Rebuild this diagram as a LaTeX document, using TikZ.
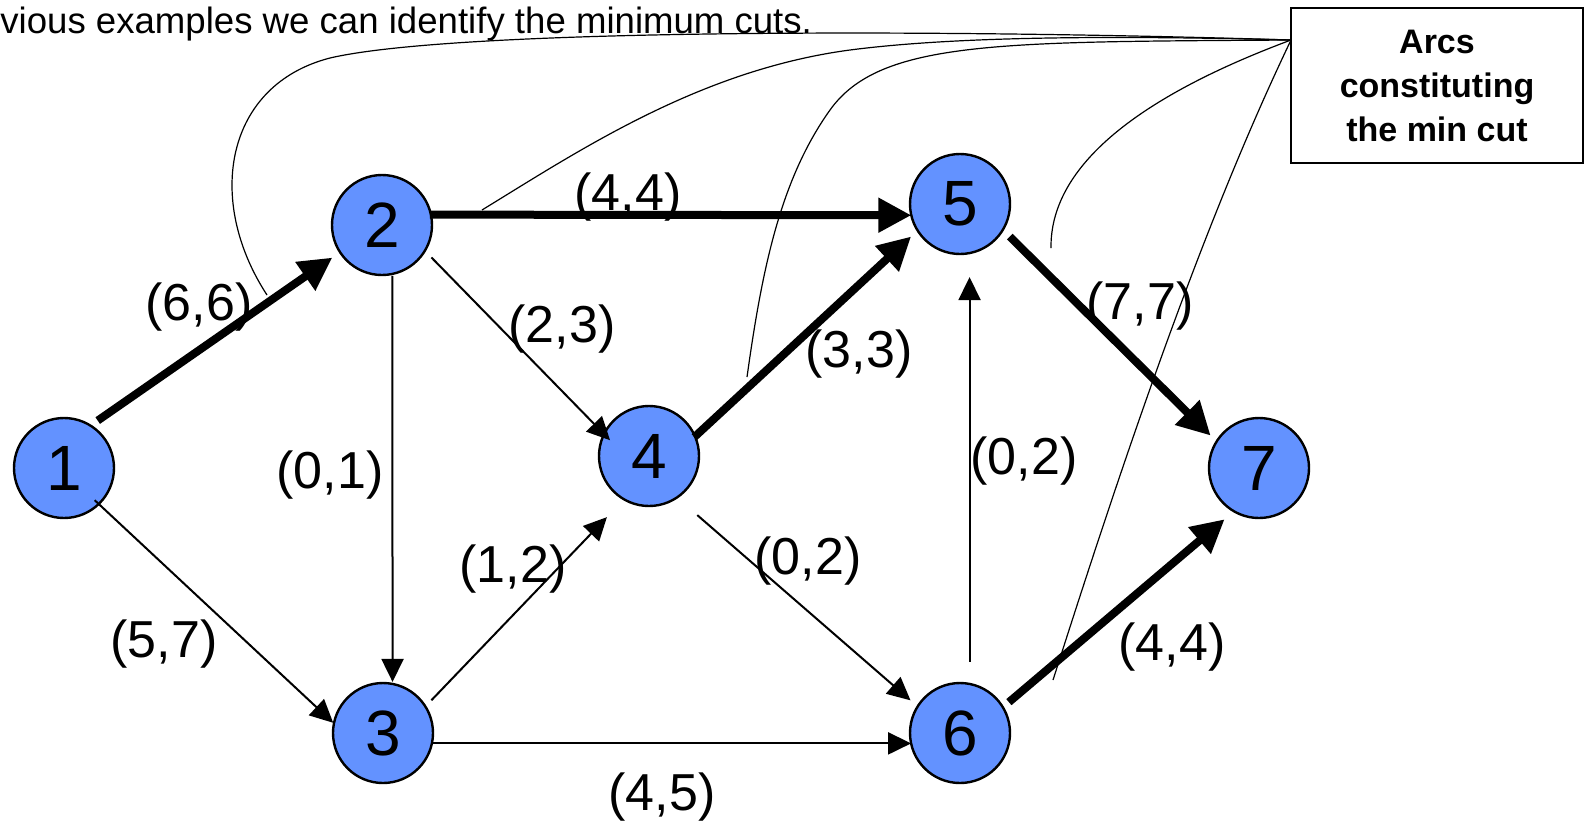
\documentclass[tikz,border=0pt]{standalone}
\usepackage{fontspec}
\setmainfont{Liberation Sans}
\usetikzlibrary{arrows.meta}
\definecolor{nodeblue}{RGB}{99,146,255}
\begin{document}
\begin{tikzpicture}[x=0.5pt,y=-0.5pt,
  vert/.style={circle,draw=black,line width=1.2pt,fill=nodeblue,minimum size=50pt,inner sep=0pt,outer sep=0pt,font=\fontsize{32}{38}\selectfont},
  lbl/.style={font=\fontsize{26}{31}\selectfont,inner sep=0pt},
  flowthin/.style={line width=1pt,-{Triangle[length=11.5pt,width=11pt]}},
  flowbold/.style={line width=4pt,-{Triangle[length=16.5pt,width=16.5pt]}},
  cutline/.style={line width=0.6pt},
  callout/.style={draw=black,line width=1pt,minimum width=146pt,minimum height=77.5pt,align=center,inner sep=0pt,font=\bfseries\fontsize{17}{22}\selectfont}]
\useasboundingbox (0,0) rectangle (1584,820);

% caption
\node[anchor=base west,inner sep=0pt,font=\fontsize{18.3}{22}\selectfont] (caption) at (0,33) {vious examples we can identify the minimum cuts.};

% callout box
\node[callout] (box) at (1437,85.5) {Arcs\\constituting\\the min cut};
\coordinate (hub) at (1291,40);

% vertices
\node[vert] (n1) at (64,468) {1};
\node[vert] (n2) at (382,225) {2};
\node[vert] (n3) at (383,733) {3};
\node[vert] (n4) at (649,456) {4};
\node[vert] (n5) at (960,204) {5};
\node[vert] (n6) at (960,733) {6};
\node[vert] (n7) at (1259,468) {7};

% arcs
\draw[flowbold,shorten <=4.4pt,shorten >=4.7pt] (n1.58) -- (n2.213);
\draw[flowthin,shorten <=-2.75pt,shorten >=0.5pt] (n1.-46) -- (n3.169);
\draw[flowthin,shorten <=1pt,shorten >=1pt] (n2.-78) -- (n3.79);
\draw[flowthin,shorten <=4.7pt,shorten >=-4.3pt] (n2.-31.4) -- (n4.154);
\draw[flowbold,shorten <=-0.5pt,shorten >=0pt] (n2.12) -- (n5.193);
\draw[flowthin,shorten <=4.35pt,shorten >=12.35pt] (n3.32) -- (n4.240);
\draw[flowthin,shorten <=0.4pt,shorten >=0pt] (n3.-12) -- (n6.192);
\draw[flowbold,shorten <=-0.5pt,shorten >=4.4pt] (n4.23) -- (n5.212);
\draw[flowthin,shorten <=13.45pt,shorten >=4.7pt] (n4.-56) -- (n6.148);
\draw[flowbold,shorten <=4.85pt,shorten >=4.2pt] (n5.-31) -- (n7.148);
\draw[flowthin,shorten <=11pt,shorten >=12pt] (n6.79) -- (n5.-79);
\draw[flowbold,shorten <=3.95pt,shorten >=6.15pt] (n6.31) -- (n7.240);

% labels
\node[lbl] (l12) at (199,307) {(6,6)};
\node[lbl] (l13) at (164,644) {(5,7)};
\node[lbl] (l23) at (330,475) {(0,1)};
\node[lbl] (l25) at (628,197) {(4,4)};
\node[lbl] (l24) at (562,329) {(2,3)};
\node[lbl] (l34) at (513,569) {(1,2)};
\node[lbl] (l45) at (859,354) {(3,3)};
\node[lbl] (l46) at (808,561) {(0,2)};
\node[lbl] (l36) at (662,797) {(4,5)};
\node[lbl] (l65) at (1024,461) {(0,2)};
\node[lbl] (l57) at (1140,306) {(7,7)};
\node[lbl] (l67) at (1172,647) {(4,4)};

% cut pointers
\coordinate (k12) at (267,295);
\coordinate (k25) at (482,210);
\coordinate (k45) at (747,377);
\coordinate (k57) at (1051,248);
\coordinate (k67) at (1053,680);
\draw[cutline] (k12) .. controls (205,200) and (225,85) .. (330,58) .. controls (450,30) and (900,28) .. (hub);
\draw[cutline] (k25) .. controls (580,150) and (700,70) .. (850,50) .. controls (950,37) and (1100,35) .. (hub);
\draw[cutline] (k45) .. controls (762,270) and (780,180) .. (830,110) .. controls (880,40) and (1000,42) .. (hub);
\draw[cutline] (k57) .. controls (1050,170) and (1130,100) .. (hub);
\draw[cutline] (k67) .. controls (1120,470) and (1200,230) .. (hub);
\end{tikzpicture}
\end{document}
